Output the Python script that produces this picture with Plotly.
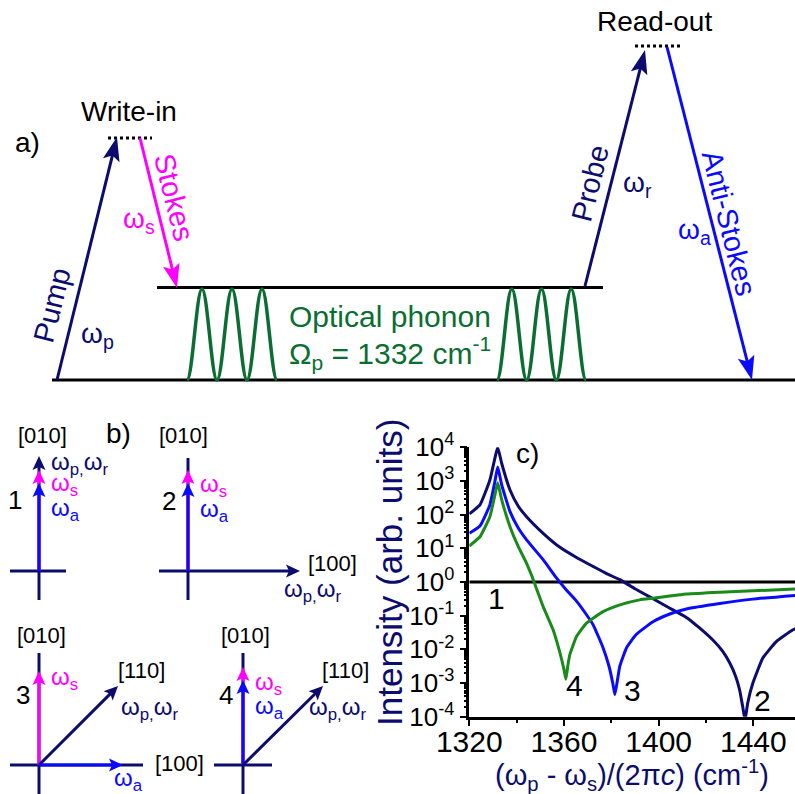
import math
import plotly.graph_objects as go

W, H = 795, 794
FONT = "Liberation Sans, Arial, sans-serif"

# ---------------- data (panel c) ----------------
x_curve2 = [1320, 1324.5, 1328.7, 1330.8, 1332.0, 1333.7, 1337.2, 1340.7, 1344.2, 1351.2,
            1358.3, 1366.0, 1372.3, 1378.0, 1383.6, 1390.0, 1397.6, 1404.0, 1411.7, 1417.0,
            1422.9, 1427.0, 1430.0, 1432.5, 1434.2, 1435.5, 1436.5, 1437.6, 1439.8, 1444.0,
            1449.7, 1456.7, 1458]
I_curve2 = [1.05e2, 1.95e2, 1.07e3, 4.7e3, 1.0e4, 3.3e3, 5.4e2, 1.78e2, 8.7e1, 2.8e1,
            1.07e1, 5.0, 2.9, 1.78, 1.17, 6.3e-1, 3.2e-1, 1.78e-1, 8.9e-2, 4.5e-2,
            1.9e-2, 8.9e-3, 4.0e-3, 1.6e-3, 6.3e-4, 2.0e-4, 7.9e-5, 2.5e-4, 1.0e-3, 5.5e-3,
            1.7e-2, 3.8e-2, 4.2e-2]

x_curve3 = [1320, 1324.5, 1328.7, 1330.8, 1332.0, 1333.7, 1337.2, 1340.7, 1344.2, 1351.2,
            1356.9, 1361.0, 1365.3, 1369.0, 1372.3, 1376.5, 1379.0, 1380.6, 1381.5, 1382.5,
            1383.6, 1386.4, 1390.6, 1397.6, 1404.7, 1411.7, 1425.8, 1439.8, 1458]
I_curve3 = [2.8e1, 4.6e1, 1.95e2, 9.5e2, 2.6e3, 7.6e2, 1.23e2, 4.0e1, 1.78e1, 4.6,
            1.3, 5.8e-1, 2.7e-1, 1.2e-1, 5.4e-2, 1.12e-2, 3.2e-3, 1.0e-3, 4.5e-4, 1.12e-3,
            3.2e-3, 1.1e-2, 2.8e-2, 6.6e-2, 1.12e-1, 1.58e-1, 2.3e-1, 3.1e-1, 4.0e-1]

x_curve4 = [1320, 1324.5, 1328.7, 1330.8, 1332.0, 1333.7, 1337.2, 1340.7, 1344.2, 1346.3,
            1351.2, 1355.4, 1358.3, 1360.0, 1360.8, 1361.6, 1362.5, 1365.3, 1369.5, 1376.5,
            1383.6, 1392.0, 1397.6, 1411.7, 1425.8, 1458]
I_curve4 = [1.17e1, 2.2e1, 8.7e1, 3.8e2, 8.9e2, 2.75e2, 4.4e1, 1.12e1, 3.6, 1.58,
            1.86e-1, 3.8e-2, 7.8e-3, 2.5e-3, 1.3e-3, 3.2e-3, 7.1e-3, 2.4e-2, 6.0e-2, 1.32e-1,
            2.1e-1, 2.95e-1, 3.3e-1, 4.4e-1, 5.0e-1, 6.2e-1]

x_curve1 = [1320, 1458]
I_curve1 = [1, 1]

x_ticks = [1320, 1360, 1400, 1440]
y_ticks = [1e-4, 1e-3, 1e-2, 1e-1, 1e0, 1e1, 1e2, 1e3, 1e4]
y_ticktext = ["10<sup>-4</sup>", "10<sup>-3</sup>", "10<sup>-2</sup>", "10<sup>-1</sup>",
              "10<sup>0</sup>", "10<sup>1</sup>", "10<sup>2</sup>", "10<sup>3</sup>", "10<sup>4</sup>"]
curve_labels = ["1", "2", "3", "4"]

NAVY = "#0c0c6e"
BLUE = "#0a0aff"
MAGENTA = "#ff00ff"
GREEN_C = "#1a8a1a"
GREEN_W = "#0a6e32"

fig = go.Figure()
fig.add_trace(go.Scatter(x=x_curve1, y=I_curve1, mode="lines", line=dict(color="black", width=3)))
fig.add_trace(go.Scatter(x=x_curve2, y=I_curve2, mode="lines", line=dict(color=NAVY, width=3, shape="spline", smoothing=0.4)))
fig.add_trace(go.Scatter(x=x_curve3, y=I_curve3, mode="lines", line=dict(color=BLUE, width=3, shape="spline", smoothing=0.4)))
fig.add_trace(go.Scatter(x=x_curve4, y=I_curve4, mode="lines", line=dict(color=GREEN_C, width=3, shape="spline", smoothing=0.4)))

minor_y = [k * 10.0 ** e for e in range(-4, 4) for k in range(2, 10)]

fig.update_layout(
    width=W, height=H, margin=dict(l=0, r=0, t=0, b=0, pad=0, autoexpand=False),
    showlegend=False, plot_bgcolor="white", paper_bgcolor="white",
    font=dict(family=FONT, color="black"),
    xaxis=dict(domain=[469.3 / W, 1.0], range=[1320, 1457.6], showgrid=False, zeroline=False,
               automargin=False,
               showline=True, linecolor="black", linewidth=2.5,
               tickmode="array", tickvals=x_ticks, ticks="outside", ticklen=7, tickwidth=2,
               tickcolor="black", tickfont=dict(size=30, family=FONT), ticklabelstandoff=-10,
               minor=dict(tickmode="array", tickvals=[1340, 1380, 1420], ticks="outside",
                          ticklen=4, tickwidth=2, tickcolor="black")),
    yaxis=dict(domain=[1 - 716.7 / H, 1 - 447.3 / H], type="log", range=[-4, 4],
               automargin=False,
               showgrid=False, zeroline=False, showline=True, linecolor="black", linewidth=2.5,
               tickmode="array", tickvals=y_ticks, ticktext=y_ticktext, ticks="outside",
               ticklen=7, tickwidth=2, tickcolor="black", tickfont=dict(size=26, family=FONT),
               minor=dict(tickmode="array", tickvals=minor_y, ticks="outside", ticklen=3,
                          tickwidth=1.5, tickcolor="black")),
)


def px(x):
    return x / W


def py(y):
    return 1 - y / H


def text(x, y, s, color="black", size=28, angle=0, xanchor="center", yanchor="middle"):
    fig.add_annotation(x=px(x), y=py(y), xref="paper", yref="paper", text=s, showarrow=False,
                       font=dict(size=size, color=color, family=FONT), textangle=angle,
                       xanchor=xanchor, yanchor=yanchor)


def line(x0, y0, x1, y1, color="black", width=3, dash=None):
    fig.add_shape(type="line", xref="paper", yref="paper", x0=px(x0), y0=py(y0), x1=px(x1), y1=py(y1),
                  line=dict(color=color, width=width, dash=dash), layer="above")


def arrow(tail, head, color, width=3, L=24, hw=8.5, notch=5):
    tx, ty = tail
    hx, hy = head
    dx, dy = hx - tx, hy - ty
    n = math.hypot(dx, dy)
    ux, uy = dx / n, dy / n
    nx, ny = -uy, ux
    bx, by = hx - ux * L, hy - uy * L
    cx, cy = hx - ux * (L - notch), hy - uy * (L - notch)
    line(tx, ty, cx + ux * 1, cy + uy * 1, color, width)
    pts = [(hx, hy), (bx + nx * hw, by + ny * hw), (cx, cy), (bx - nx * hw, by - ny * hw)]
    path = "M " + " L ".join(f"{px(a):.5f},{py(b):.5f}" for a, b in pts) + " Z"
    fig.add_shape(type="path", xref="paper", yref="paper", path=path, fillcolor=color,
                  line=dict(width=0), layer="above")


def wave(x0, x1, ytop, ybot, n, color, width=3):
    P = (x1 - x0) / n
    h = P / 2
    c = 0.36 * h
    segs = [f"M {px(x0):.5f},{py(ybot):.5f}"]
    xs = x0
    up = True
    for _ in range(2 * n):
        ya, yb = (ybot, ytop) if up else (ytop, ybot)
        segs.append(f"C {px(xs + c):.5f},{py(ya):.5f} {px(xs + h - c):.5f},{py(yb):.5f} {px(xs + h):.5f},{py(yb):.5f}")
        xs += h
        up = not up
    fig.add_shape(type="path", xref="paper", yref="paper", path=" ".join(segs),
                  line=dict(color=color, width=width), layer="above")


# ---------------- panel a ----------------
text(27, 142, "a)", size=28)
text(129, 112, "Write-in", size=28)
line(108, 138, 152, 138, "black", 3, "dot")
line(157, 287.5, 603, 287.5, "black", 3)
line(52, 380, 795, 380, "black", 3)
wave(187, 277, 289, 380, 3, GREEN_W, 3.5)
wave(497, 586, 289, 380, 3, GREEN_W, 3.5)
arrow((57, 380), (117, 137), NAVY)
arrow((140, 138), (177, 288), MAGENTA)
text(52, 305, "Pump", NAVY, 29, -76)
text(97, 335, "ω<sub>p</sub>", NAVY, 28)
text(174, 197, "Stokes", MAGENTA, 29, 76)
text(139, 220, "ω<sub>s</sub>", MAGENTA, 28)
text(287, 317, "Optical phonon", GREEN_W, 30, xanchor="left")
text(287, 353, "Ω<sub>p</sub> = 1332 cm<sup>-1</sup>", GREEN_W, 30, xanchor="left")

text(654, 21, "Read-out", size=28)
line(635, 46, 680, 46, "black", 3, "dot")
arrow((585, 286), (645, 50), NAVY)
arrow((667, 47), (752, 380), BLUE)
text(590, 184, "Probe", NAVY, 29, -76)
text(637, 185, "ω<sub>r</sub>", NAVY, 28)
text(729, 223, "Anti-Stokes", BLUE, 29, 76)
text(694, 231, "ω<sub>a</sub>", BLUE, 28)

# ---------------- panel b ----------------
AH = dict(L=14, hw=6.5, notch=3)
BW = 3
SB = 24
text(118, 433, "b)", size=28)
# diagram 1
line(39, 571, 39, 600, NAVY, BW)
line(10, 571, 66, 571, NAVY, BW)
arrow((39, 571), (39, 456), NAVY, BW, **AH)
arrow((39, 571), (39, 470), MAGENTA, BW, **AH)
arrow((39, 571), (39, 483), BLUE, BW, **AH)
text(42, 435, "[010]", size=22)
text(49, 463, "ω<sub>p,</sub>ω<sub>r</sub>", NAVY, SB, xanchor="left")
text(49, 484, "ω<sub>s</sub>", MAGENTA, SB, xanchor="left")
text(49, 509, "ω<sub>a</sub>", BLUE, SB, xanchor="left")
text(15, 500, "1", size=26)
# diagram 2
line(188, 458, 188, 600, NAVY, BW)
arrow((159, 571), (300, 571), NAVY, BW, **AH)
arrow((188, 571), (188, 470), MAGENTA, BW, **AH)
arrow((188, 571), (188, 483), BLUE, BW, **AH)
text(183, 435, "[010]", size=22)
text(198, 485, "ω<sub>s</sub>", MAGENTA, SB, xanchor="left")
text(198, 510, "ω<sub>a</sub>", BLUE, SB, xanchor="left")
text(169, 501, "2", size=26)
text(332, 563, "[100]", size=22)
text(313, 590, "ω<sub>p,</sub>ω<sub>r</sub>", NAVY, SB)
# diagram 3
line(39, 653, 39, 794, NAVY, BW)
line(10, 765, 143, 765, NAVY, BW)
arrow((39, 765), (39, 671), MAGENTA, BW, **AH)
arrow((39, 765), (118, 686), NAVY, BW, **AH)
arrow((39, 765), (123, 765), BLUE, BW, **AH)
text(41, 635, "[010]", size=22)
text(49, 678, "ω<sub>s</sub>", MAGENTA, SB, xanchor="left")
text(23, 695, "3", size=26)
text(141, 670, "[110]", size=22)
text(150, 708, "ω<sub>p,</sub>ω<sub>r</sub>", NAVY, SB)
text(179, 763, "[100]", size=22)
text(128, 779, "ω<sub>a</sub>", BLUE, SB)
# diagram 4
line(243, 653, 243, 794, NAVY, BW)
line(214, 765, 272, 765, NAVY, BW)
arrow((243, 765), (243, 667), MAGENTA, BW, **AH)
arrow((243, 765), (243, 680), BLUE, BW, **AH)
arrow((243, 765), (323, 686), NAVY, BW, **AH)
text(245, 635, "[010]", size=22)
text(253, 683, "ω<sub>s</sub>", MAGENTA, SB, xanchor="left")
text(253, 707, "ω<sub>a</sub>", BLUE, SB, xanchor="left")
text(226, 695, "4", size=26)
text(345, 670, "[110]", size=22)
text(338, 708, "ω<sub>p,</sub>ω<sub>r</sub>", NAVY, SB)

# ---------------- panel c labels ----------------
text(527, 453, "c)", size=28)
text(496, 598, curve_labels[0], size=30)
text(762, 700, curve_labels[1], size=30)
text(632, 690, curve_labels[2], size=30)
text(574, 685, curve_labels[3], size=30)
text(389, 573, "Intensity (arb. units)", NAVY, 35, -90)
text(632, 775, "(ω<sub>p</sub> - ω<sub>s</sub>)/(2π<i>c</i>) (cm<sup>-1</sup>)", NAVY, 29)

fig.write_html("out.html")
